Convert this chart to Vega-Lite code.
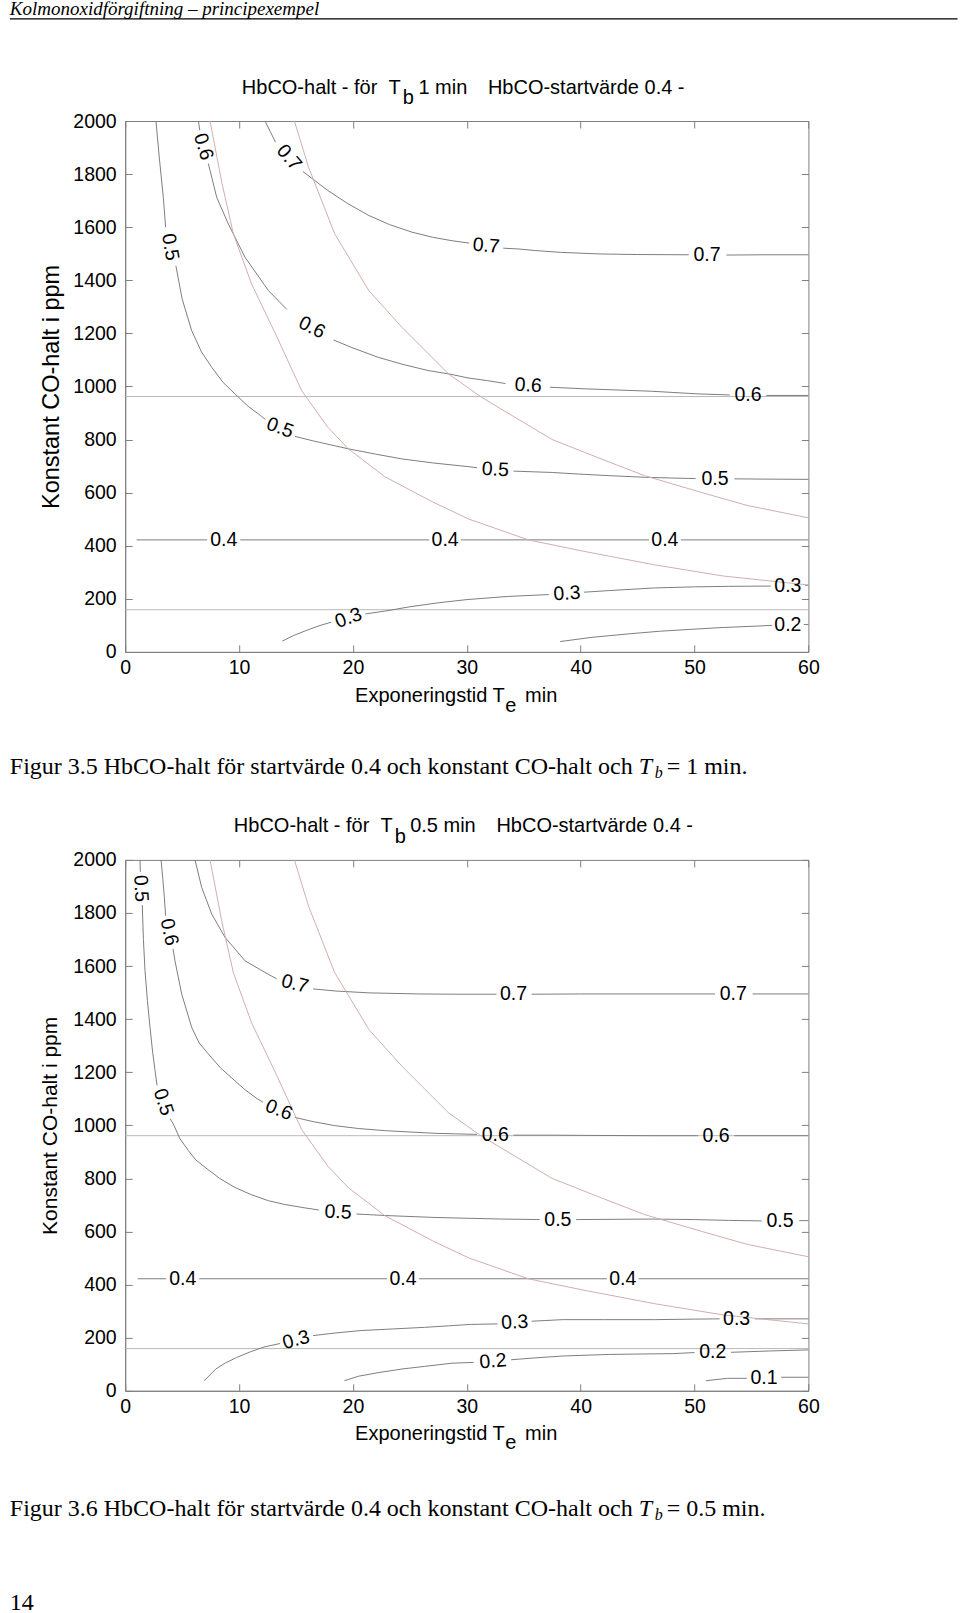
{
  "$schema": "https://vega.github.io/schema/vega-lite/v6.json",
  "background": "white",
  "padding": {"left": 8.2, "top": -1, "right": 0, "bottom": 12},
  "bounds": "flush",
  "spacing": 207.9,
  "config": {
    "view": {"stroke": "#808080", "strokeWidth": 1},
    "axis": {"grid": false, "domainColor": "#808080", "tickColor": "#808080", "labelFont": "Liberation Sans", "labelFontSize": 19.5, "labelColor": "#000000", "titleFont": "Liberation Sans", "titleFontWeight": "normal", "titleColor": "#000000"},
    "text": {"font": "Liberation Sans", "color": "#000000"}
  },
  "datasets": {
    "red": [
      {"seg": "A", "t": 7.45, "c": 2000}, {"seg": "A", "t": 8.5, "c": 1765}, {"seg": "A", "t": 9.5, "c": 1575}, {"seg": "A", "t": 11.1, "c": 1386}, {"seg": "A", "t": 13.2, "c": 1198}, {"seg": "A", "t": 15.5, "c": 984}, {"seg": "A", "t": 17.8, "c": 846}, {"seg": "A", "t": 19.6, "c": 765}, {"seg": "A", "t": 22.8, "c": 660}, {"seg": "A", "t": 27, "c": 565}, {"seg": "A", "t": 30.2, "c": 500}, {"seg": "A", "t": 35.4, "c": 422}, {"seg": "A", "t": 40.4, "c": 378}, {"seg": "A", "t": 46.5, "c": 328}, {"seg": "A", "t": 52.5, "c": 286}, {"seg": "A", "t": 60, "c": 252},
      {"seg": "B", "t": 14.86, "c": 2000}, {"seg": "B", "t": 16.1, "c": 1826}, {"seg": "B", "t": 18.4, "c": 1575}, {"seg": "B", "t": 21.4, "c": 1361}, {"seg": "B", "t": 24.3, "c": 1223}, {"seg": "B", "t": 28.4, "c": 1047}, {"seg": "B", "t": 31.3, "c": 959}, {"seg": "B", "t": 37.5, "c": 800}, {"seg": "B", "t": 41.8, "c": 727}, {"seg": "B", "t": 45.6, "c": 664}, {"seg": "B", "t": 50.5, "c": 602}, {"seg": "B", "t": 54.6, "c": 552}, {"seg": "B", "t": 60, "c": 505}
    ],
    "p1lines": [
      {"seg": "r1", "kind": "reference", "t": 0, "c": 962}, {"seg": "r1", "kind": "reference", "t": 60, "c": 962},
      {"seg": "r2", "kind": "reference", "t": 0, "c": 159}, {"seg": "r2", "kind": "reference", "t": 60, "c": 159},
      {"seg": "c5a", "kind": "contour", "t": 2.7, "c": 2000}, {"seg": "c5a", "kind": "contour", "t": 3.0, "c": 1860}, {"seg": "c5a", "kind": "contour", "t": 3.35, "c": 1712}, {"seg": "c5a", "kind": "contour", "t": 3.55, "c": 1600},
      {"seg": "c5b", "kind": "contour", "t": 4.45, "c": 1455}, {"seg": "c5b", "kind": "contour", "t": 5.0, "c": 1330}, {"seg": "c5b", "kind": "contour", "t": 5.84, "c": 1210}, {"seg": "c5b", "kind": "contour", "t": 6.7, "c": 1130}, {"seg": "c5b", "kind": "contour", "t": 7.6, "c": 1072}, {"seg": "c5b", "kind": "contour", "t": 8.6, "c": 1015}, {"seg": "c5b", "kind": "contour", "t": 9.64, "c": 972}, {"seg": "c5b", "kind": "contour", "t": 10.8, "c": 925}, {"seg": "c5b", "kind": "contour", "t": 11.9, "c": 890}, {"seg": "c5b", "kind": "contour", "t": 12.3, "c": 876},
      {"seg": "c5c", "kind": "contour", "t": 14.9, "c": 812}, {"seg": "c5c", "kind": "contour", "t": 16.5, "c": 795}, {"seg": "c5c", "kind": "contour", "t": 19.6, "c": 765}, {"seg": "c5c", "kind": "contour", "t": 22, "c": 745}, {"seg": "c5c", "kind": "contour", "t": 24.3, "c": 727}, {"seg": "c5c", "kind": "contour", "t": 27, "c": 712}, {"seg": "c5c", "kind": "contour", "t": 30.1, "c": 698}, {"seg": "c5c", "kind": "contour", "t": 30.9, "c": 694},
      {"seg": "c5d", "kind": "contour", "t": 34.1, "c": 681}, {"seg": "c5d", "kind": "contour", "t": 37.5, "c": 676}, {"seg": "c5d", "kind": "contour", "t": 39.8, "c": 670}, {"seg": "c5d", "kind": "contour", "t": 42.5, "c": 664}, {"seg": "c5d", "kind": "contour", "t": 45.6, "c": 658}, {"seg": "c5d", "kind": "contour", "t": 48, "c": 655}, {"seg": "c5d", "kind": "contour", "t": 50.1, "c": 653},
      {"seg": "c5e", "kind": "contour", "t": 53.5, "c": 652}, {"seg": "c5e", "kind": "contour", "t": 56, "c": 651}, {"seg": "c5e", "kind": "contour", "t": 60, "c": 650},
      {"seg": "c6a", "kind": "contour", "t": 6.43, "c": 2000}, {"seg": "c6a", "kind": "contour", "t": 6.55, "c": 1965},
      {"seg": "c6b", "kind": "contour", "t": 7.3, "c": 1840}, {"seg": "c6b", "kind": "contour", "t": 8.04, "c": 1712}, {"seg": "c6b", "kind": "contour", "t": 9.06, "c": 1612}, {"seg": "c6b", "kind": "contour", "t": 10.52, "c": 1487}, {"seg": "c6b", "kind": "contour", "t": 12.58, "c": 1361}, {"seg": "c6b", "kind": "contour", "t": 14.2, "c": 1290},
      {"seg": "c6c", "kind": "contour", "t": 18.3, "c": 1175}, {"seg": "c6c", "kind": "contour", "t": 20, "c": 1145}, {"seg": "c6c", "kind": "contour", "t": 22.2, "c": 1110}, {"seg": "c6c", "kind": "contour", "t": 24.4, "c": 1083}, {"seg": "c6c", "kind": "contour", "t": 26.6, "c": 1060}, {"seg": "c6c", "kind": "contour", "t": 28.7, "c": 1045}, {"seg": "c6c", "kind": "contour", "t": 30.1, "c": 1032}, {"seg": "c6c", "kind": "contour", "t": 31.8, "c": 1022}, {"seg": "c6c", "kind": "contour", "t": 33.4, "c": 1011},
      {"seg": "c6d", "kind": "contour", "t": 37.3, "c": 997}, {"seg": "c6d", "kind": "contour", "t": 40.4, "c": 991}, {"seg": "c6d", "kind": "contour", "t": 43, "c": 987}, {"seg": "c6d", "kind": "contour", "t": 46.2, "c": 982}, {"seg": "c6d", "kind": "contour", "t": 50.3, "c": 972}, {"seg": "c6d", "kind": "contour", "t": 53.1, "c": 968},
      {"seg": "c6e", "kind": "contour", "t": 56.3, "c": 966}, {"seg": "c6e", "kind": "contour", "t": 60, "c": 966},
      {"seg": "c7a", "kind": "contour", "t": 12.28, "c": 2000}, {"seg": "c7a", "kind": "contour", "t": 12.8, "c": 1955}, {"seg": "c7a", "kind": "contour", "t": 13.2, "c": 1920},
      {"seg": "c7b", "kind": "contour", "t": 15.6, "c": 1810}, {"seg": "c7b", "kind": "contour", "t": 17.8, "c": 1738}, {"seg": "c7b", "kind": "contour", "t": 19.5, "c": 1690}, {"seg": "c7b", "kind": "contour", "t": 21.4, "c": 1644}, {"seg": "c7b", "kind": "contour", "t": 23.2, "c": 1610}, {"seg": "c7b", "kind": "contour", "t": 25.2, "c": 1581}, {"seg": "c7b", "kind": "contour", "t": 27, "c": 1562}, {"seg": "c7b", "kind": "contour", "t": 28.7, "c": 1549}, {"seg": "c7b", "kind": "contour", "t": 30.2, "c": 1540},
      {"seg": "c7c", "kind": "contour", "t": 33.2, "c": 1521}, {"seg": "c7c", "kind": "contour", "t": 34.5, "c": 1518}, {"seg": "c7c", "kind": "contour", "t": 36, "c": 1512}, {"seg": "c7c", "kind": "contour", "t": 38.3, "c": 1505}, {"seg": "c7c", "kind": "contour", "t": 41.8, "c": 1499}, {"seg": "c7c", "kind": "contour", "t": 45, "c": 1497}, {"seg": "c7c", "kind": "contour", "t": 49.5, "c": 1496},
      {"seg": "c7d", "kind": "contour", "t": 52.8, "c": 1495}, {"seg": "c7d", "kind": "contour", "t": 56, "c": 1496}, {"seg": "c7d", "kind": "contour", "t": 60, "c": 1496},
      {"seg": "c4a", "kind": "contour", "t": 1.0, "c": 422}, {"seg": "c4a", "kind": "contour", "t": 7.2, "c": 422},
      {"seg": "c4b", "kind": "contour", "t": 10.1, "c": 422}, {"seg": "c4b", "kind": "contour", "t": 26.7, "c": 422},
      {"seg": "c4c", "kind": "contour", "t": 29.5, "c": 422}, {"seg": "c4c", "kind": "contour", "t": 46.0, "c": 422},
      {"seg": "c4d", "kind": "contour", "t": 48.8, "c": 422}, {"seg": "c4d", "kind": "contour", "t": 60, "c": 422},
      {"seg": "c3a", "kind": "contour", "t": 13.8, "c": 41}, {"seg": "c3a", "kind": "contour", "t": 14.8, "c": 62}, {"seg": "c3a", "kind": "contour", "t": 15.8, "c": 79}, {"seg": "c3a", "kind": "contour", "t": 17.0, "c": 98}, {"seg": "c3a", "kind": "contour", "t": 18.1, "c": 112},
      {"seg": "c3b", "kind": "contour", "t": 21.1, "c": 143}, {"seg": "c3b", "kind": "contour", "t": 23, "c": 155}, {"seg": "c3b", "kind": "contour", "t": 25, "c": 170}, {"seg": "c3b", "kind": "contour", "t": 27.5, "c": 185}, {"seg": "c3b", "kind": "contour", "t": 30, "c": 197}, {"seg": "c3b", "kind": "contour", "t": 33.6, "c": 209}, {"seg": "c3b", "kind": "contour", "t": 37.2, "c": 216},
      {"seg": "c3c", "kind": "contour", "t": 40.3, "c": 225}, {"seg": "c3c", "kind": "contour", "t": 42.5, "c": 231}, {"seg": "c3c", "kind": "contour", "t": 46.5, "c": 241}, {"seg": "c3c", "kind": "contour", "t": 50, "c": 245}, {"seg": "c3c", "kind": "contour", "t": 53, "c": 247}, {"seg": "c3c", "kind": "contour", "t": 56.7, "c": 248},
      {"seg": "c3d", "kind": "contour", "t": 59.7, "c": 251}, {"seg": "c3d", "kind": "contour", "t": 60, "c": 251},
      {"seg": "c2a", "kind": "contour", "t": 38.2, "c": 39}, {"seg": "c2a", "kind": "contour", "t": 41, "c": 55}, {"seg": "c2a", "kind": "contour", "t": 44.5, "c": 69}, {"seg": "c2a", "kind": "contour", "t": 47, "c": 78}, {"seg": "c2a", "kind": "contour", "t": 49.7, "c": 85}, {"seg": "c2a", "kind": "contour", "t": 52.5, "c": 92}, {"seg": "c2a", "kind": "contour", "t": 55.4, "c": 97}, {"seg": "c2a", "kind": "contour", "t": 56.8, "c": 100},
      {"seg": "c2b", "kind": "contour", "t": 59.6, "c": 103}, {"seg": "c2b", "kind": "contour", "t": 60, "c": 103}
    ],
    "p1labels": [
      {"t": 6.87, "c": 1903, "label": "0.6", "tilt": 73}, {"t": 14.4, "c": 1862, "label": "0.7", "tilt": 50}, {"t": 3.95, "c": 1525, "label": "0.5", "tilt": 80},
      {"t": 31.7, "c": 1530, "label": "0.7", "tilt": 5}, {"t": 51.1, "c": 1495, "label": "0.7", "tilt": 0},
      {"t": 16.4, "c": 1222, "label": "0.6", "tilt": 27}, {"t": 35.4, "c": 1004, "label": "0.6", "tilt": 4}, {"t": 54.7, "c": 967, "label": "0.6", "tilt": 0},
      {"t": 13.6, "c": 844, "label": "0.5", "tilt": 20}, {"t": 32.5, "c": 687, "label": "0.5", "tilt": 3}, {"t": 51.8, "c": 652, "label": "0.5", "tilt": 0},
      {"t": 8.65, "c": 422, "label": "0.4", "tilt": 0}, {"t": 28.1, "c": 422, "label": "0.4", "tilt": 0}, {"t": 47.4, "c": 422, "label": "0.4", "tilt": 0},
      {"t": 19.6, "c": 128, "label": "0.3", "tilt": -20}, {"t": 38.8, "c": 220, "label": "0.3", "tilt": -3}, {"t": 58.2, "c": 250, "label": "0.3", "tilt": 0},
      {"t": 58.2, "c": 103, "label": "0.2", "tilt": 0}
    ],
    "p2lines": [
      {"seg": "r1", "kind": "reference", "t": 0, "c": 961}, {"seg": "r1", "kind": "reference", "t": 60, "c": 961},
      {"seg": "r2", "kind": "reference", "t": 0, "c": 159}, {"seg": "r2", "kind": "reference", "t": 60, "c": 159},
      {"seg": "c5a", "kind": "contour", "t": 1.3, "c": 2000}, {"seg": "c5a", "kind": "contour", "t": 1.33, "c": 1955},
      {"seg": "c5b", "kind": "contour", "t": 1.5, "c": 1830}, {"seg": "c5b", "kind": "contour", "t": 1.6, "c": 1700}, {"seg": "c5b", "kind": "contour", "t": 1.74, "c": 1583}, {"seg": "c5b", "kind": "contour", "t": 1.95, "c": 1470}, {"seg": "c5b", "kind": "contour", "t": 2.18, "c": 1369}, {"seg": "c5b", "kind": "contour", "t": 2.4, "c": 1280}, {"seg": "c5b", "kind": "contour", "t": 2.62, "c": 1206}, {"seg": "c5b", "kind": "contour", "t": 2.8, "c": 1150},
      {"seg": "c5c", "kind": "contour", "t": 3.95, "c": 1025}, {"seg": "c5c", "kind": "contour", "t": 4.23, "c": 1005}, {"seg": "c5c", "kind": "contour", "t": 4.8, "c": 950}, {"seg": "c5c", "kind": "contour", "t": 5.55, "c": 905}, {"seg": "c5c", "kind": "contour", "t": 6.2, "c": 870}, {"seg": "c5c", "kind": "contour", "t": 7.01, "c": 842}, {"seg": "c5c", "kind": "contour", "t": 8.3, "c": 800}, {"seg": "c5c", "kind": "contour", "t": 9.64, "c": 766}, {"seg": "c5c", "kind": "contour", "t": 11, "c": 740}, {"seg": "c5c", "kind": "contour", "t": 12.58, "c": 716}, {"seg": "c5c", "kind": "contour", "t": 14, "c": 702}, {"seg": "c5c", "kind": "contour", "t": 15.5, "c": 691}, {"seg": "c5c", "kind": "contour", "t": 17.0, "c": 681},
      {"seg": "c5d", "kind": "contour", "t": 20.3, "c": 666}, {"seg": "c5d", "kind": "contour", "t": 23, "c": 660}, {"seg": "c5d", "kind": "contour", "t": 27.2, "c": 653}, {"seg": "c5d", "kind": "contour", "t": 30, "c": 650}, {"seg": "c5d", "kind": "contour", "t": 33.1, "c": 647}, {"seg": "c5d", "kind": "contour", "t": 36.4, "c": 645},
      {"seg": "c5e", "kind": "contour", "t": 39.6, "c": 645}, {"seg": "c5e", "kind": "contour", "t": 43, "c": 646}, {"seg": "c5e", "kind": "contour", "t": 46.2, "c": 647}, {"seg": "c5e", "kind": "contour", "t": 50, "c": 645}, {"seg": "c5e", "kind": "contour", "t": 53, "c": 642}, {"seg": "c5e", "kind": "contour", "t": 55.9, "c": 640},
      {"seg": "c5f", "kind": "contour", "t": 59.2, "c": 641}, {"seg": "c5f", "kind": "contour", "t": 60, "c": 641},
      {"seg": "c6a", "kind": "contour", "t": 3.15, "c": 2000}, {"seg": "c6a", "kind": "contour", "t": 3.3, "c": 1930}, {"seg": "c6a", "kind": "contour", "t": 3.44, "c": 1859}, {"seg": "c6a", "kind": "contour", "t": 3.55, "c": 1790},
      {"seg": "c6b", "kind": "contour", "t": 4.2, "c": 1665}, {"seg": "c6b", "kind": "contour", "t": 4.37, "c": 1620}, {"seg": "c6b", "kind": "contour", "t": 4.96, "c": 1495}, {"seg": "c6b", "kind": "contour", "t": 5.84, "c": 1369}, {"seg": "c6b", "kind": "contour", "t": 6.5, "c": 1310}, {"seg": "c6b", "kind": "contour", "t": 7.3, "c": 1269}, {"seg": "c6b", "kind": "contour", "t": 8.4, "c": 1215}, {"seg": "c6b", "kind": "contour", "t": 9.64, "c": 1168}, {"seg": "c6b", "kind": "contour", "t": 10.5, "c": 1135}, {"seg": "c6b", "kind": "contour", "t": 11.6, "c": 1100}, {"seg": "c6b", "kind": "contour", "t": 12.1, "c": 1087},
      {"seg": "c6c", "kind": "contour", "t": 14.9, "c": 1030}, {"seg": "c6c", "kind": "contour", "t": 16.5, "c": 1014}, {"seg": "c6c", "kind": "contour", "t": 18.4, "c": 999}, {"seg": "c6c", "kind": "contour", "t": 20.5, "c": 988}, {"seg": "c6c", "kind": "contour", "t": 22.8, "c": 980}, {"seg": "c6c", "kind": "contour", "t": 25, "c": 975}, {"seg": "c6c", "kind": "contour", "t": 27.2, "c": 970}, {"seg": "c6c", "kind": "contour", "t": 29, "c": 968}, {"seg": "c6c", "kind": "contour", "t": 30.9, "c": 966},
      {"seg": "c6d", "kind": "contour", "t": 34.1, "c": 963}, {"seg": "c6d", "kind": "contour", "t": 37.5, "c": 963}, {"seg": "c6d", "kind": "contour", "t": 41, "c": 962}, {"seg": "c6d", "kind": "contour", "t": 46.2, "c": 961}, {"seg": "c6d", "kind": "contour", "t": 50.3, "c": 961},
      {"seg": "c6e", "kind": "contour", "t": 53.5, "c": 961}, {"seg": "c6e", "kind": "contour", "t": 60, "c": 961},
      {"seg": "c7a", "kind": "contour", "t": 6.13, "c": 2000}, {"seg": "c7a", "kind": "contour", "t": 6.72, "c": 1896}, {"seg": "c7a", "kind": "contour", "t": 7.6, "c": 1796}, {"seg": "c7a", "kind": "contour", "t": 8.77, "c": 1708}, {"seg": "c7a", "kind": "contour", "t": 10.52, "c": 1620}, {"seg": "c7a", "kind": "contour", "t": 12.28, "c": 1576}, {"seg": "c7a", "kind": "contour", "t": 13.3, "c": 1552},
      {"seg": "c7b", "kind": "contour", "t": 16.5, "c": 1514}, {"seg": "c7b", "kind": "contour", "t": 18.5, "c": 1506}, {"seg": "c7b", "kind": "contour", "t": 21.4, "c": 1499}, {"seg": "c7b", "kind": "contour", "t": 25.75, "c": 1495}, {"seg": "c7b", "kind": "contour", "t": 29, "c": 1494}, {"seg": "c7b", "kind": "contour", "t": 32.6, "c": 1494},
      {"seg": "c7c", "kind": "contour", "t": 35.7, "c": 1494}, {"seg": "c7c", "kind": "contour", "t": 40, "c": 1495}, {"seg": "c7c", "kind": "contour", "t": 45, "c": 1495}, {"seg": "c7c", "kind": "contour", "t": 51.8, "c": 1495},
      {"seg": "c7d", "kind": "contour", "t": 55.1, "c": 1495}, {"seg": "c7d", "kind": "contour", "t": 60, "c": 1495},
      {"seg": "c4a", "kind": "contour", "t": 1.1, "c": 422}, {"seg": "c4a", "kind": "contour", "t": 3.6, "c": 422},
      {"seg": "c4b", "kind": "contour", "t": 6.5, "c": 422}, {"seg": "c4b", "kind": "contour", "t": 23.0, "c": 422},
      {"seg": "c4c", "kind": "contour", "t": 25.8, "c": 422}, {"seg": "c4c", "kind": "contour", "t": 42.3, "c": 422},
      {"seg": "c4d", "kind": "contour", "t": 45.1, "c": 422}, {"seg": "c4d", "kind": "contour", "t": 60, "c": 422},
      {"seg": "c3a", "kind": "contour", "t": 6.94, "c": 38}, {"seg": "c3a", "kind": "contour", "t": 7.95, "c": 82}, {"seg": "c3a", "kind": "contour", "t": 8.8, "c": 105}, {"seg": "c3a", "kind": "contour", "t": 9.77, "c": 125}, {"seg": "c3a", "kind": "contour", "t": 11, "c": 147}, {"seg": "c3a", "kind": "contour", "t": 12.19, "c": 165}, {"seg": "c3a", "kind": "contour", "t": 13.6, "c": 178},
      {"seg": "c3b", "kind": "contour", "t": 16.5, "c": 208}, {"seg": "c3b", "kind": "contour", "t": 18.5, "c": 218}, {"seg": "c3b", "kind": "contour", "t": 20.7, "c": 227}, {"seg": "c3b", "kind": "contour", "t": 23.5, "c": 233}, {"seg": "c3b", "kind": "contour", "t": 26.3, "c": 239}, {"seg": "c3b", "kind": "contour", "t": 28.5, "c": 245}, {"seg": "c3b", "kind": "contour", "t": 30.3, "c": 250}, {"seg": "c3b", "kind": "contour", "t": 32.7, "c": 252},
      {"seg": "c3c", "kind": "contour", "t": 35.7, "c": 262}, {"seg": "c3c", "kind": "contour", "t": 38.4, "c": 268}, {"seg": "c3c", "kind": "contour", "t": 42, "c": 268}, {"seg": "c3c", "kind": "contour", "t": 46.5, "c": 268}, {"seg": "c3c", "kind": "contour", "t": 50, "c": 270}, {"seg": "c3c", "kind": "contour", "t": 52.2, "c": 271},
      {"seg": "c3d", "kind": "contour", "t": 55.3, "c": 271}, {"seg": "c3d", "kind": "contour", "t": 60, "c": 271},
      {"seg": "c2a", "kind": "contour", "t": 19.25, "c": 38}, {"seg": "c2a", "kind": "contour", "t": 20.5, "c": 55}, {"seg": "c2a", "kind": "contour", "t": 22.3, "c": 69}, {"seg": "c2a", "kind": "contour", "t": 24.3, "c": 82}, {"seg": "c2a", "kind": "contour", "t": 26.3, "c": 92}, {"seg": "c2a", "kind": "contour", "t": 28.7, "c": 104}, {"seg": "c2a", "kind": "contour", "t": 30.6, "c": 107},
      {"seg": "c2b", "kind": "contour", "t": 33.9, "c": 117}, {"seg": "c2b", "kind": "contour", "t": 36, "c": 124}, {"seg": "c2b", "kind": "contour", "t": 38.4, "c": 131}, {"seg": "c2b", "kind": "contour", "t": 42.5, "c": 137}, {"seg": "c2b", "kind": "contour", "t": 46, "c": 139}, {"seg": "c2b", "kind": "contour", "t": 48.1, "c": 140}, {"seg": "c2b", "kind": "contour", "t": 50.0, "c": 144},
      {"seg": "c2c", "kind": "contour", "t": 53.2, "c": 145}, {"seg": "c2c", "kind": "contour", "t": 56.6, "c": 150}, {"seg": "c2c", "kind": "contour", "t": 60, "c": 154},
      {"seg": "c1a", "kind": "contour", "t": 51.0, "c": 38}, {"seg": "c1a", "kind": "contour", "t": 52.9, "c": 47}, {"seg": "c1a", "kind": "contour", "t": 54.6, "c": 47},
      {"seg": "c1b", "kind": "contour", "t": 57.6, "c": 51}, {"seg": "c1b", "kind": "contour", "t": 60, "c": 51}
    ],
    "p2labels": [
      {"t": 1.38, "c": 1892, "label": "0.5", "tilt": 87}, {"t": 3.87, "c": 1728, "label": "0.6", "tilt": 78}, {"t": 14.9, "c": 1533, "label": "0.7", "tilt": 15},
      {"t": 34.1, "c": 1494, "label": "0.7", "tilt": 0}, {"t": 53.4, "c": 1495, "label": "0.7", "tilt": 0},
      {"t": 3.35, "c": 1088, "label": "0.5", "tilt": 72}, {"t": 13.5, "c": 1058, "label": "0.6", "tilt": 22},
      {"t": 32.5, "c": 965, "label": "0.6", "tilt": 0}, {"t": 51.9, "c": 960, "label": "0.6", "tilt": 0},
      {"t": 18.7, "c": 673, "label": "0.5", "tilt": 3}, {"t": 38.0, "c": 645, "label": "0.5", "tilt": 0}, {"t": 57.5, "c": 640, "label": "0.5", "tilt": 0},
      {"t": 5.05, "c": 422, "label": "0.4", "tilt": 0}, {"t": 24.4, "c": 422, "label": "0.4", "tilt": 0}, {"t": 43.7, "c": 422, "label": "0.4", "tilt": 0},
      {"t": 15.0, "c": 192, "label": "0.3", "tilt": -15}, {"t": 34.2, "c": 258, "label": "0.3", "tilt": -3}, {"t": 53.7, "c": 271, "label": "0.3", "tilt": 0},
      {"t": 32.3, "c": 111, "label": "0.2", "tilt": -5}, {"t": 51.6, "c": 145, "label": "0.2", "tilt": 0},
      {"t": 56.1, "c": 47, "label": "0.1", "tilt": 0}
    ]
  },
  "vconcat": [
    {
      "width": 683.2,
      "height": 530.9,
      "resolve": {"axis": {"x": "independent", "y": "independent"}},
      "layer": [
        {
          "data": {"name": "p1lines"},
          "mark": {"type": "line", "strokeWidth": 1},
          "encoding": {
            "x": {"field": "t", "type": "quantitative", "scale": {"domain": [0, 60], "nice": false, "zero": false},
                  "axis": {"orient": "bottom", "values": [0, 10, 20, 30, 40, 50, 60], "format": "d", "title": null, "tickSize": -7, "labelPadding": 14, "labelFlush": false, "labelOverlap": false}},
            "y": {"field": "c", "type": "quantitative", "scale": {"domain": [0, 2000], "nice": false, "zero": false},
                  "axis": {"orient": "left", "values": [0, 200, 400, 600, 800, 1000, 1200, 1400, 1600, 1800, 2000], "format": "d", "title": "Konstant CO-halt i ppm", "titleFontSize": 23.5, "titlePadding": 9, "tickSize": -7, "labelPadding": 16, "labelFlush": false, "labelOverlap": false}},
            "detail": {"field": "seg", "type": "nominal"},
            "color": {"field": "kind", "type": "nominal", "scale": {"domain": ["contour", "reference"], "range": ["#7d7d7d", "#b9b9b9"]}, "legend": null}
          }
        },
        {
          "data": {"name": "red"},
          "mark": {"type": "line", "strokeWidth": 1, "color": "#d3adad"},
          "encoding": {
            "x": {"field": "t", "type": "quantitative", "axis": {"orient": "top", "values": [0, 10, 20, 30, 40, 50, 60], "labels": false, "title": null, "domain": false, "tickSize": -7}},
            "y": {"field": "c", "type": "quantitative", "axis": {"orient": "right", "values": [0, 200, 400, 600, 800, 1000, 1200, 1400, 1600, 1800, 2000], "labels": false, "title": null, "domain": false, "tickSize": -7}},
            "detail": {"field": "seg", "type": "nominal"}
          }
        },
        {
          "data": {"name": "p1labels"},
          "mark": {"type": "text", "fontSize": 19.5, "align": "center", "baseline": "middle"},
          "encoding": {
            "x": {"field": "t", "type": "quantitative", "axis": null},
            "y": {"field": "c", "type": "quantitative", "axis": null},
            "text": {"field": "label"},
            "angle": {"field": "tilt", "type": "quantitative", "scale": null}
          }
        },
        {
          "data": {"values": [{}]},
          "mark": {"type": "text", "text": "Kolmonoxidförgiftning – principexempel", "font": "Liberation Serif", "fontStyle": "italic", "fontSize": 19, "align": "left", "baseline": "alphabetic"},
          "encoding": {"x": {"datum": -10.13, "type": "quantitative", "axis": null}, "y": {"datum": 2401, "type": "quantitative", "axis": null}}
        },
        {
          "data": {"values": [{}]},
          "mark": {"type": "rule", "color": "#000000", "strokeWidth": 1.3},
          "encoding": {"x": {"datum": -10.13, "type": "quantitative", "axis": null}, "x2": {"datum": 73.1}, "y": {"datum": 2385, "type": "quantitative", "axis": null}}
        },
        {
          "data": {"values": [{}]},
          "mark": {"type": "text", "text": "HbCO-halt - för\u00a0\u00a0T", "fontSize": 20, "align": "right", "baseline": "middle"},
          "encoding": {"x": {"datum": 24.19, "type": "quantitative", "axis": null}, "y": {"datum": 2124, "type": "quantitative", "axis": null}}
        },
        {
          "data": {"values": [{}]},
          "mark": {"type": "text", "text": "b", "fontSize": 20, "align": "left", "baseline": "middle"},
          "encoding": {"x": {"datum": 24.37, "type": "quantitative", "axis": null}, "y": {"datum": 2085, "type": "quantitative", "axis": null}}
        },
        {
          "data": {"values": [{}]},
          "mark": {"type": "text", "text": "1 min\u00a0\u00a0\u00a0\u2009HbCO-startvärde 0.4 -", "fontSize": 20, "align": "left", "baseline": "middle"},
          "encoding": {"x": {"datum": 25.75, "type": "quantitative", "axis": null}, "y": {"datum": 2124, "type": "quantitative", "axis": null}}
        },
        {
          "data": {"values": [{}]},
          "mark": {"type": "text", "text": "Exponeringstid T", "fontSize": 20, "align": "right", "baseline": "middle"},
          "encoding": {"x": {"datum": 33.33, "type": "quantitative", "axis": null}, "y": {"datum": -166.9, "type": "quantitative", "axis": null}}
        },
        {
          "data": {"values": [{}]},
          "mark": {"type": "text", "text": "e", "fontSize": 20, "align": "left", "baseline": "middle"},
          "encoding": {"x": {"datum": 33.38, "type": "quantitative", "axis": null}, "y": {"datum": -202, "type": "quantitative", "axis": null}}
        },
        {
          "data": {"values": [{}]},
          "mark": {"type": "text", "text": "min", "fontSize": 20, "align": "left", "baseline": "middle"},
          "encoding": {"x": {"datum": 35.12, "type": "quantitative", "axis": null}, "y": {"datum": -166.9, "type": "quantitative", "axis": null}}
        },
        {
          "data": {"values": [{}]},
          "mark": {"type": "text", "text": "Figur 3.5 HbCO-halt för startvärde 0.4 och konstant CO-halt och", "font": "Liberation Serif", "fontSize": 24, "align": "left", "baseline": "middle"},
          "encoding": {"x": {"datum": -10.13, "type": "quantitative", "axis": null}, "y": {"datum": -434.4, "type": "quantitative", "axis": null}}
        },
        {
          "data": {"values": [{}]},
          "mark": {"type": "text", "text": "T", "font": "Liberation Serif", "fontStyle": "italic", "fontSize": 24, "align": "left", "baseline": "middle"},
          "encoding": {"x": {"datum": 45.1, "type": "quantitative", "axis": null}, "y": {"datum": -434.4, "type": "quantitative", "axis": null}}
        },
        {
          "data": {"values": [{}]},
          "mark": {"type": "text", "text": "b", "font": "Liberation Serif", "fontStyle": "italic", "fontSize": 16, "align": "left", "baseline": "middle"},
          "encoding": {"x": {"datum": 46.5, "type": "quantitative", "axis": null}, "y": {"datum": -454.7, "type": "quantitative", "axis": null}}
        },
        {
          "data": {"values": [{}]},
          "mark": {"type": "text", "text": "= 1 min.", "font": "Liberation Serif", "fontSize": 24, "align": "left", "baseline": "middle"},
          "encoding": {"x": {"datum": 47.55, "type": "quantitative", "axis": null}, "y": {"datum": -434.4, "type": "quantitative", "axis": null}}
        }
      ]
    },
    {
      "width": 683.2,
      "height": 530.9,
      "resolve": {"axis": {"x": "independent", "y": "independent"}},
      "layer": [
        {
          "data": {"name": "p2lines"},
          "mark": {"type": "line", "strokeWidth": 1},
          "encoding": {
            "x": {"field": "t", "type": "quantitative", "scale": {"domain": [0, 60], "nice": false, "zero": false},
                  "axis": {"orient": "bottom", "values": [0, 10, 20, 30, 40, 50, 60], "format": "d", "title": null, "tickSize": -7, "labelPadding": 14, "labelFlush": false, "labelOverlap": false}},
            "y": {"field": "c", "type": "quantitative", "scale": {"domain": [0, 2000], "nice": false, "zero": false},
                  "axis": {"orient": "left", "values": [0, 200, 400, 600, 800, 1000, 1200, 1400, 1600, 1800, 2000], "format": "d", "title": "Konstant CO-halt i ppm", "titleFontSize": 21, "titlePadding": 12, "tickSize": -7, "labelPadding": 16, "labelFlush": false, "labelOverlap": false}},
            "detail": {"field": "seg", "type": "nominal"},
            "color": {"field": "kind", "type": "nominal", "scale": {"domain": ["contour", "reference"], "range": ["#7d7d7d", "#b9b9b9"]}, "legend": null}
          }
        },
        {
          "data": {"name": "red"},
          "mark": {"type": "line", "strokeWidth": 1, "color": "#d3adad"},
          "encoding": {
            "x": {"field": "t", "type": "quantitative", "axis": {"orient": "top", "values": [0, 10, 20, 30, 40, 50, 60], "labels": false, "title": null, "domain": false, "tickSize": -7}},
            "y": {"field": "c", "type": "quantitative", "axis": {"orient": "right", "values": [0, 200, 400, 600, 800, 1000, 1200, 1400, 1600, 1800, 2000], "labels": false, "title": null, "domain": false, "tickSize": -7}},
            "detail": {"field": "seg", "type": "nominal"}
          }
        },
        {
          "data": {"name": "p2labels"},
          "mark": {"type": "text", "fontSize": 19.5, "align": "center", "baseline": "middle"},
          "encoding": {
            "x": {"field": "t", "type": "quantitative", "axis": null},
            "y": {"field": "c", "type": "quantitative", "axis": null},
            "text": {"field": "label"},
            "angle": {"field": "tilt", "type": "quantitative", "scale": null}
          }
        },
        {
          "data": {"values": [{}]},
          "mark": {"type": "text", "text": "HbCO-halt - för\u00a0\u00a0T", "fontSize": 20, "align": "right", "baseline": "middle"},
          "encoding": {"x": {"datum": 23.49, "type": "quantitative", "axis": null}, "y": {"datum": 2127.7, "type": "quantitative", "axis": null}}
        },
        {
          "data": {"values": [{}]},
          "mark": {"type": "text", "text": "b", "fontSize": 20, "align": "left", "baseline": "middle"},
          "encoding": {"x": {"datum": 23.67, "type": "quantitative", "axis": null}, "y": {"datum": 2088, "type": "quantitative", "axis": null}}
        },
        {
          "data": {"values": [{}]},
          "mark": {"type": "text", "text": "0.5 min\u00a0\u00a0\u00a0\u2009HbCO-startvärde 0.4 -", "fontSize": 20, "align": "left", "baseline": "middle"},
          "encoding": {"x": {"datum": 25.03, "type": "quantitative", "axis": null}, "y": {"datum": 2127.7, "type": "quantitative", "axis": null}}
        },
        {
          "data": {"values": [{}]},
          "mark": {"type": "text", "text": "Exponeringstid T", "fontSize": 20, "align": "right", "baseline": "middle"},
          "encoding": {"x": {"datum": 33.33, "type": "quantitative", "axis": null}, "y": {"datum": -163, "type": "quantitative", "axis": null}}
        },
        {
          "data": {"values": [{}]},
          "mark": {"type": "text", "text": "e", "fontSize": 20, "align": "left", "baseline": "middle"},
          "encoding": {"x": {"datum": 33.38, "type": "quantitative", "axis": null}, "y": {"datum": -197.4, "type": "quantitative", "axis": null}}
        },
        {
          "data": {"values": [{}]},
          "mark": {"type": "text", "text": "min", "fontSize": 20, "align": "left", "baseline": "middle"},
          "encoding": {"x": {"datum": 35.12, "type": "quantitative", "axis": null}, "y": {"datum": -163, "type": "quantitative", "axis": null}}
        },
        {
          "data": {"values": [{}]},
          "mark": {"type": "text", "text": "Figur 3.6 HbCO-halt för startvärde 0.4 och konstant CO-halt och", "font": "Liberation Serif", "fontSize": 24, "align": "left", "baseline": "middle"},
          "encoding": {"x": {"datum": -10.13, "type": "quantitative", "axis": null}, "y": {"datum": -445.6, "type": "quantitative", "axis": null}}
        },
        {
          "data": {"values": [{}]},
          "mark": {"type": "text", "text": "T", "font": "Liberation Serif", "fontStyle": "italic", "fontSize": 24, "align": "left", "baseline": "middle"},
          "encoding": {"x": {"datum": 45.1, "type": "quantitative", "axis": null}, "y": {"datum": -445.6, "type": "quantitative", "axis": null}}
        },
        {
          "data": {"values": [{}]},
          "mark": {"type": "text", "text": "b", "font": "Liberation Serif", "fontStyle": "italic", "fontSize": 16, "align": "left", "baseline": "middle"},
          "encoding": {"x": {"datum": 46.5, "type": "quantitative", "axis": null}, "y": {"datum": -466.3, "type": "quantitative", "axis": null}}
        },
        {
          "data": {"values": [{}]},
          "mark": {"type": "text", "text": "= 0.5 min.", "font": "Liberation Serif", "fontSize": 24, "align": "left", "baseline": "middle"},
          "encoding": {"x": {"datum": 47.55, "type": "quantitative", "axis": null}, "y": {"datum": -445.6, "type": "quantitative", "axis": null}}
        },
        {
          "data": {"values": [{}]},
          "mark": {"type": "text", "text": "14", "font": "Liberation Serif", "fontSize": 24, "align": "left", "baseline": "middle"},
          "encoding": {"x": {"datum": -10.13, "type": "quantitative", "axis": null}, "y": {"datum": -797.7, "type": "quantitative", "axis": null}}
        }
      ]
    }
  ]
}
